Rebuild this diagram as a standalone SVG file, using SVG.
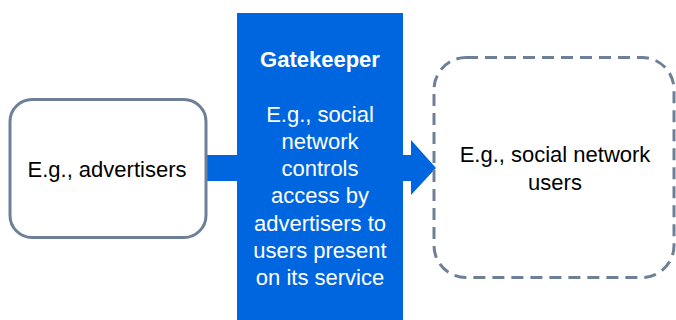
<svg xmlns="http://www.w3.org/2000/svg" width="676" height="320" viewBox="0 0 676 320">
<style>
.t{font-family:"Liberation Sans",Arial,sans-serif;font-size:22px;text-anchor:middle}
.d{fill:#000}
.w{fill:#fff}
.b{font-weight:bold}
</style>
<rect width="676" height="320" fill="#fff"/>
<g id="connectors">
<rect x="206" y="155" width="32" height="26" fill="#0066E0"/>
<polygon points="402,155 411,155 411,140 436,168 411,195 411,181 402,181" fill="#0066E0"/>
</g>
<g id="advertisers">
<rect x="10" y="99.5" width="196" height="138" rx="22" fill="#fff" stroke="#6E8098" stroke-width="3"/>
<text class="t d" x="107" y="177">E.g., advertisers</text>
</g>
<g id="gatekeeper">
<rect x="237" y="13" width="166" height="310" fill="#0066E0"/>
<text class="t w b" x="320" y="67">Gatekeeper</text>
<text class="t w" x="320" y="122">E.g., social</text>
<text class="t w" x="320" y="149">network</text>
<text class="t w" x="320" y="176">controls</text>
<text class="t w" x="320" y="203">access by</text>
<text class="t w" x="320" y="231">advertisers to</text>
<text class="t w" x="320" y="258">users present</text>
<text class="t w" x="320" y="285">on its service</text>
</g>
<g id="users">
<rect x="434" y="57.5" width="240" height="220" rx="32" fill="none" stroke="#6E8098" stroke-width="3" stroke-dasharray="12 7"/>
<text class="t d" x="555" y="162">E.g., social network</text>
<text class="t d" x="555" y="190">users</text>
</g>
</svg>
